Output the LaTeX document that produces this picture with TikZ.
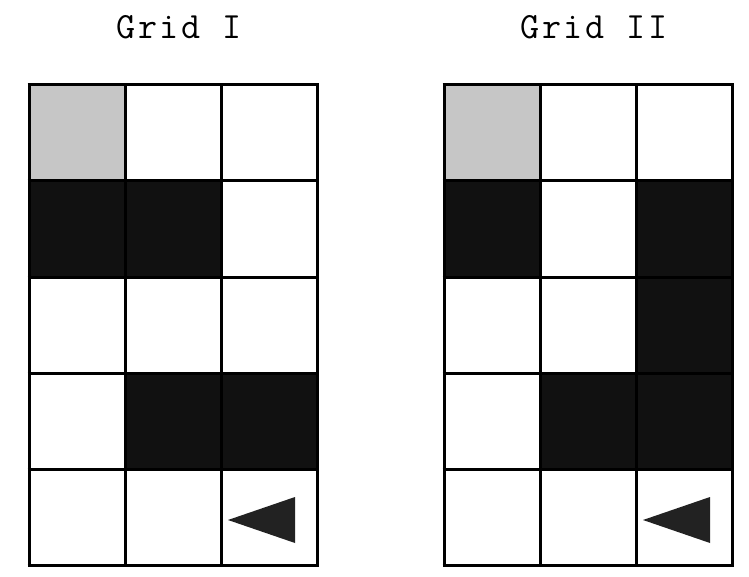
\documentclass[tikz,border=0pt]{standalone}
\usepackage{fontspec}
\setmonofont{Latin Modern Mono}[LetterSpace=7.5]
\definecolor{cellgray}{HTML}{C6C6C6}
\definecolor{cellblack}{HTML}{111111}
\definecolor{tri}{HTML}{222222}
\begin{document}
\begin{tikzpicture}[x=1pt,y=-1pt,
  title/.style={font=\ttfamily\fontsize{37}{37}\selectfont, inner sep=0pt, anchor=base west},
  gridline/.style={line width=3pt, draw=black},
  graycell/.style={fill=cellgray},
  blackcell/.style={fill=cellblack},
  arrowtri/.style={fill=tri}]
\useasboundingbox (0,0) rectangle (749,577);
\fill[white] (0,0) rectangle (749,577);
% Titles
\node[title] (t1) at (116,38.5) {Grid I};
\node[title] (t2) at (520,38.5) {Grid II};
% Grid I (origin 29,85)
\begin{scope}[shift={(29,85)}]
  \fill[graycell] (0,0) rectangle (96,96);
  \fill[blackcell] (0,96) rectangle (192,192);
  \fill[blackcell] (96,288) rectangle (288,384);
  \fill[arrowtri] (199,435) -- (266,412) -- (266,458) -- cycle;
  \foreach \i in {0,1,2,3}{ \draw[gridline] (\i*96,0) -- (\i*96,480); }
  \foreach \j in {0,1,2,3,4,5}{ \draw[gridline] (-1.5,\j*96) -- (289.5,\j*96); }
\end{scope}
% Grid II (origin 444,85)
\begin{scope}[shift={(444,85)}]
  \fill[graycell] (0,0) rectangle (96,96);
  \fill[blackcell] (0,96) rectangle (96,192);
  \fill[blackcell] (192,96) rectangle (288,384);
  \fill[blackcell] (96,288) rectangle (192,384);
  \fill[arrowtri] (199,435) -- (266,412) -- (266,458) -- cycle;
  \foreach \i in {0,1,2,3}{ \draw[gridline] (\i*96,0) -- (\i*96,480); }
  \foreach \j in {0,1,2,3,4,5}{ \draw[gridline] (-1.5,\j*96) -- (289.5,\j*96); }
\end{scope}
\end{tikzpicture}
\end{document}
